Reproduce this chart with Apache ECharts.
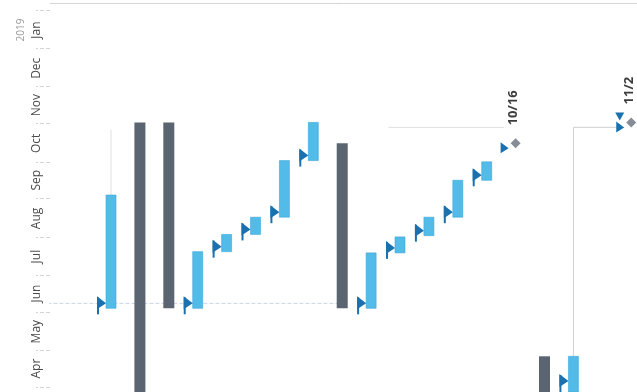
<!DOCTYPE html>
<html><head><meta charset="utf-8">
<script src="https://cdn.jsdelivr.net/npm/echarts@6/dist/echarts.min.js"></script>
<style>html,body{margin:0;padding:0;background:#fff}#c{width:637px;height:392px}</style>
</head><body><div id="c"></div>
<script>
// ---- data ----
const axisStart = '2018-03-28';
const axisEnd = '2019-02-07';
const monthLabels = ['Apr','May','Jun','Jul','Aug','Sep','Oct','Nov','Dec','Jan'];
const yearLabels  = ['','','','','','','','','','2019'];
const monthMid = ['2018-04-16','2018-05-16','2018-06-16','2018-07-16','2018-08-16','2018-09-16','2018-10-16','2018-11-16','2018-12-16','2019-01-16'];
const monthStart = ['2018-04-01','2018-05-01','2018-06-01','2018-07-01','2018-08-01','2018-09-01','2018-10-01','2018-11-01','2018-12-01','2019-01-01','2019-02-01'];

const summarySlot  = [1, 2, 8, 15];
const summaryStart = ['2018-03-01','2018-06-04','2018-06-04','2018-03-01'];
const summaryEnd   = ['2018-11-02','2018-11-02','2018-10-16','2018-04-26'];

const taskSlot  = [0, 3, 4, 5, 6, 7, 9, 10, 11, 12, 13, 16];
const taskStart = ['2018-06-04','2018-06-04','2018-07-20','2018-08-03','2018-08-17','2018-10-02','2018-06-04','2018-07-19','2018-08-02','2018-08-17','2018-09-16','2018-03-01'];
const taskEnd   = ['2018-09-04','2018-07-20','2018-08-03','2018-08-17','2018-10-02','2018-11-02','2018-07-19','2018-08-01','2018-08-17','2018-09-16','2018-10-01','2018-04-26'];

const milestoneSlot  = [14, 18];
const milestoneDate  = ['2018-10-16','2018-11-02'];
const milestoneLabel = ['10/16','11/2'];

const linkA = [[16, '2018-04-26'], [16, '2018-10-29'], [17.6, '2018-10-29']];
const linkB = [[9.6, '2018-10-29'], [13.6, '2018-10-29']];
const linkC = [[0, '2018-09-04'], [0, '2018-10-27']];
const guideLine = [[-2.2, '2018-06-08'], [8.0, '2018-06-08']];

// ---- helpers ----
const ts = s => echarts.time.parse(s).getTime();
const monthMidTs = monthMid.map(ts);
const FONT = '"Open Sans", "DejaVu Sans", sans-serif';

const chart = echarts.init(document.getElementById('c'), null, {renderer: 'canvas'});

function clip(rect, params) {
  return echarts.graphic.clipRectByRect(rect, {
    x: params.coordSys.x, y: params.coordSys.y,
    width: params.coordSys.width, height: params.coordSys.height
  });
}

function renderSummary(params, api) {
  const p0 = api.coord([api.value(0), api.value(1)]);
  const p1 = api.coord([api.value(0), api.value(2)]);
  const w = 11;
  const r = clip({x: p0[0] - w / 2, y: p1[1], width: w, height: p0[1] - p1[1]}, params);
  return r && {type: 'rect', shape: r, style: {fill: '#5b6471'}};
}

function flag(xl, yb) {
  return [
    {type: 'polygon', shape: {points: [[xl - 9, yb - 12], [xl - 9, yb + 1], [xl, yb - 5]]}, style: {fill: '#1b71ae'}},
    {type: 'line', shape: {x1: xl - 8, y1: yb - 11, x2: xl - 8, y2: yb + 6}, style: {stroke: '#1b71ae', lineWidth: 2}}
  ];
}

function renderTask(params, api) {
  const p0 = api.coord([api.value(0), api.value(1)]);
  const p1 = api.coord([api.value(0), api.value(2)]);
  const w = 10;
  const xl = p0[0] - w / 2;
  const yBottom = params.coordSys.y + params.coordSys.height;
  const yb = Math.min(p0[1], yBottom - 6);
  const r = clip({x: xl, y: p1[1], width: w, height: p0[1] - p1[1]}, params);
  const children = [];
  if (r) children.push({type: 'rect', shape: r, style: {fill: '#52bbe8', stroke: '#3aa8da', lineWidth: 0.6}});
  return {type: 'group', children: children.concat(flag(xl, yb))};
}

function renderMilestone(params, api) {
  const p = api.coord([api.value(0), api.value(1)]);
  const d = 5;
  const idx = params.dataIndex;
  const children = [
    {type: 'polygon', shape: {points: [[p[0], p[1] - d], [p[0] + d, p[1]], [p[0], p[1] + d], [p[0] - d, p[1]]]}, style: {fill: '#868d96'}},
    {type: 'polygon', shape: {points: [[p[0] - 15, p[1] - 1], [p[0] - 15, p[1] + 10], [p[0] - 7, p[1] + 5]]}, style: {fill: '#1b71ae'}},
    {type: 'text', x: p[0] - 2, y: p[1] - 18, rotation: Math.PI / 2,
     style: {text: milestoneLabel[idx], align: 'left', verticalAlign: 'middle', fill: '#3c3c3c',
             font: 'bold 13px ' + FONT}}
  ];
  if (idx === 1) {
    children.push({type: 'polygon', shape: {points: [[p[0] - 16, p[1] - 10], [p[0] - 7, p[1] - 10], [p[0] - 11.5, p[1] - 2]]}, style: {fill: '#1b71ae'}});
  }
  return {type: 'group', children};
}

function pathSeries(path, color, dashed) {
  return {
    type: 'line', data: path.map(p => [p[0], ts(p[1])]), symbol: 'none', silent: true,
    lineStyle: {color, width: 1, type: dashed ? 'dashed' : 'solid'}, z: 1, animation: false
  };
}

const option = {
  animation: false,
  backgroundColor: '#ffffff',
  grid: {left: 50, right: 0, top: 3, bottom: 0, containLabel: false},
  xAxis: {
    type: 'value', min: -2.111, max: 18.2, position: 'top',
    axisLine: {show: true, onZero: false, lineStyle: {color: '#d6d6d6', width: 1}},
    axisTick: {show: false}, axisLabel: {show: false}, splitLine: {show: false}
  },
  yAxis: {
    type: 'value', min: ts(axisStart), max: ts(axisEnd), scale: true,
    axisLine: {show: false, onZero: false}, splitLine: {show: false},
    axisTick: {show: true, customValues: monthStart.map(ts), length: 14, inside: false,
               lineStyle: {color: '#d4d4d4', type: 'dashed'}},
    axisLabel: {
      customValues: monthMidTs, rotate: 90, margin: 5,
      color: '#4a4a4a', fontSize: 12, fontFamily: FONT,
      formatter: function (v) {
        const i = monthMidTs.indexOf(v);
        if (i < 0) return '';
        return yearLabels[i] ? '{y|' + yearLabels[i] + '}\n{m|' + monthLabels[i] + '}' : '{m|' + monthLabels[i] + '}';
      },
      rich: {
        m: {color: '#4a4a4a', fontSize: 12, fontFamily: FONT, lineHeight: 16},
        y: {color: '#9a9a9a', fontSize: 10, fontFamily: FONT, lineHeight: 16}
      }
    }
  },
  series: [
    pathSeries(guideLine, '#c9d6e3', true),
    pathSeries(linkA, '#cfcfcf', false),
    pathSeries(linkB, '#dedede', false),
    pathSeries(linkC, '#e0e0e0', false),
    {
      type: 'custom', name: 'summary', renderItem: renderSummary, encode: {x: 0, y: [1, 2]},
      data: summarySlot.map((s, i) => [s, ts(summaryStart[i]), ts(summaryEnd[i])]), z: 3
    },
    {
      type: 'custom', name: 'tasks', renderItem: renderTask, encode: {x: 0, y: [1, 2]},
      data: taskSlot.map((s, i) => [s, ts(taskStart[i]), ts(taskEnd[i])]), z: 4
    },
    {
      type: 'custom', name: 'milestones', renderItem: renderMilestone, encode: {x: 0, y: 1},
      data: milestoneSlot.map((s, i) => [s, ts(milestoneDate[i])]), z: 5
    }
  ]
};
chart.setOption(option);
</script>
</body></html>
